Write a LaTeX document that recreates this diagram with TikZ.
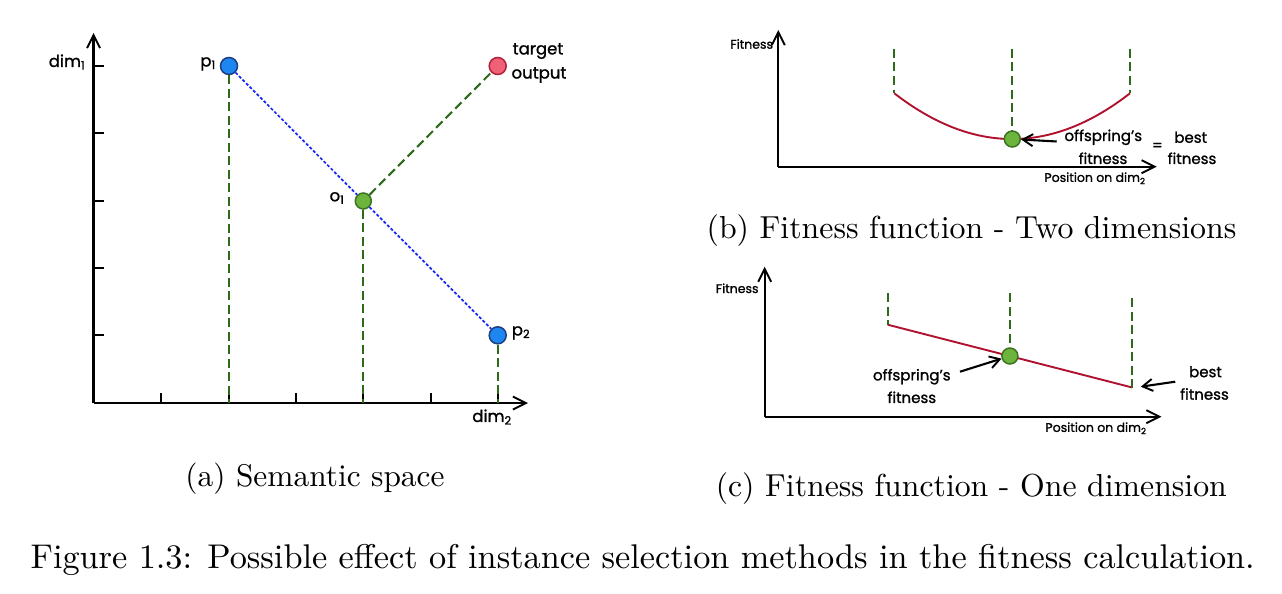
\documentclass[tikz,border=0pt]{standalone}
\usepackage{fontspec}
\newfontfamily\geo[FakeBold=1.2]{Poppins}
\usetikzlibrary{arrows.meta}
\definecolor{dgreen}{HTML}{2F6A1A}
\definecolor{dotblue}{HTML}{1428F5}
\definecolor{bluefill}{HTML}{1E86F0}
\definecolor{blueedge}{HTML}{1F3F7F}
\definecolor{greenfill}{HTML}{6CB43C}
\definecolor{greenedge}{HTML}{3C7324}
\definecolor{redfill}{HTML}{EF6177}
\definecolor{rededge}{HTML}{B3223C}
\definecolor{curvered}{HTML}{B0122E}
\begin{document}
\begin{tikzpicture}[x=1pt,y=-1pt,
  axisline/.style={line width=2.2pt,-{Straight Barb[length=13pt,width=13pt,line width=1.9pt]}},
  tickline/.style={line width=1.9pt},
  gdash/.style={dgreen,line width=2.1pt,dash pattern=on 9pt off 4.5pt},
  bdot/.style={dotblue,line width=1.7pt,dash pattern=on 3pt off 2pt},
  redline/.style={curvered,line width=1.9pt},
  annarrow/.style={line width=2.1pt,-{Straight Barb[length=10pt,width=12pt,line width=1.9pt]}},
  ptblue/.style={circle,minimum size=17pt,inner sep=0pt,line width=1.5pt,draw=blueedge,fill=bluefill},
  ptgreen/.style={circle,minimum size=16pt,inner sep=0pt,line width=1.5pt,draw=greenedge,fill=greenfill},
  ptred/.style={circle,minimum size=17pt,inner sep=0pt,line width=1.5pt,draw=rededge,fill=redfill},
  lblA/.style={font=\geo\fontsize{16.5}{18}\selectfont,inner sep=0pt},
  lblAx/.style={font=\geo\fontsize{12.5}{14}\selectfont,inner sep=0pt},
  lblAnn/.style={font=\geo\fontsize{15}{17}\selectfont,inner sep=0pt},
  capt/.style={inner sep=0pt}
]
\useasboundingbox[fill=white] (0,0) rectangle (1282,594);

% ---------------- panel (a) ----------------
\coordinate (aO) at (93.5,403);
\coordinate (aY) at (93.5,33);
\coordinate (aX) at (528,403);
\draw[axisline] (aO) -- (aY);
\draw[axisline] (aO) -- (aX);
\foreach \xx in {161.2,229,296.3,363.3,430.7,497.7}
  \draw[tickline] (\xx,403) -- (\xx,393);
\foreach \yy in {66,133.3,201,268.3,335.3}
  \draw[tickline] (93.5,\yy) -- (104,\yy);
\coordinate (f1) at (229,403);
\coordinate (f2) at (363.3,403);
\coordinate (f3) at (497.7,403);
\node[ptblue] (p1) at (229,66) {};
\node[ptgreen] (o1) at (363.3,201) {};
\node[ptblue] (p2) at (497.7,335.3) {};
\node[ptred] (tg) at (497.7,66) {};
\draw[gdash] (p1) -- (f1);
\draw[gdash] (o1) -- (f2);
\draw[gdash] (p2) -- (f3);
\draw[gdash] (o1) -- (tg);
\draw[bdot] (p1) -- (o1);
\draw[bdot] (o1) -- (p2);
\node[lblA] (ldim1) at (67,62) {dim\textsubscript{1}};
\node[lblA] (lp1) at (208,64) {p\textsubscript{1}};
\node[lblA] (lo1) at (337,198) {o\textsubscript{1}};
\node[lblA] (lp2) at (521,333) {p\textsubscript{2}};
\node[lblA] (ldim2) at (492,417) {dim\textsubscript{2}};
\node[lblA] (ltarget) at (538,51) {target};
\node[lblA] (loutput) at (539,75) {output};

% ---------------- panel (b) ----------------
\coordinate (bO) at (778.3,166.7);
\coordinate (bY) at (778.3,30);
\coordinate (bX) at (1156.7,166.7);
\draw[axisline] (bO) -- (bY);
\draw[axisline] (bO) -- (bX);
\node[lblAx] (bfit) at (751.7,44) {Fitness};
\node[lblAx] (bpos) at (1095,178.3) {Position on dim\textsubscript{2}};
\coordinate (bl) at (894.3,93.3);
\coordinate (br) at (1130,93.3);
\coordinate (blt) at (894.3,49);
\coordinate (bmt) at (1012.3,49);
\coordinate (brt) at (1130,49);
\draw[redline] (bl) .. controls (973,154.3) and (1051.6,154.3) .. (br);
\node[ptgreen] (bo) at (1012.3,139) {};
\draw[gdash] (blt) -- (bl);
\draw[gdash] (brt) -- (br);
\draw[gdash] (bmt) -- (bo);
\coordinate (bat) at (1056.7,141.5);
\draw[annarrow] (bat) -- (bo);
\node[lblAnn] (boff) at (1103.3,137.3) {offspring’s};
\node[lblAnn] (bfit1) at (1103,158.3) {fitness};
\node[lblAnn] (beq) at (1157.3,146.7) {=};
\node[lblAnn] (bbest) at (1190.7,137.3) {best};
\node[lblAnn] (bfit2) at (1192,158.3) {fitness};

% ---------------- panel (c) ----------------
\coordinate (cO) at (764.7,416.7);
\coordinate (cY) at (764.7,266.7);
\coordinate (cX) at (1161.4,416.7);
\draw[axisline] (cO) -- (cY);
\draw[axisline] (cO) -- (cX);
\node[lblAx] (cfit) at (737.2,288.3) {Fitness};
\node[lblAx] (cpos) at (1096,428.3) {Position on dim\textsubscript{2}};
\coordinate (cl) at (887.7,324.7);
\coordinate (cr) at (1132.2,387.5);
\coordinate (clt) at (887.7,293.3);
\coordinate (cmt) at (1009.9,293.3);
\coordinate (crt) at (1132.2,298.3);
\draw[redline] (cl) -- (cr);
\node[ptgreen] (co) at (1009.9,356) {};
\draw[gdash] (clt) -- (cl);
\draw[gdash] (crt) -- (cr);
\draw[gdash] (cmt) -- (co);
\coordinate (cat) at (960,371.7);
\draw[annarrow] (cat) -- (co);
\coordinate (cbt) at (1175.2,381.7);
\coordinate (cbh) at (1140.8,386.7);
\draw[annarrow] (cbt) -- (cbh);
\node[lblAnn] (coff) at (911.8,376.7) {offspring’s};
\node[lblAnn] (cfit1) at (911.8,397.3) {fitness};
\node[lblAnn] (cbest) at (1205.5,371.7) {best};
\node[lblAnn] (cfit2) at (1204.5,394) {fitness};

% ---------------- captions ----------------
\node[capt] (capa) at (315,479) {\resizebox{259pt}{!}{(a) Semantic space}};
\node[capt] (capb) at (971.5,231) {\resizebox{529.6pt}{!}{(b) Fitness function - Two dimensions}};
\node[capt] (capc) at (971.3,489) {\resizebox{511pt}{!}{(c) Fitness function - One dimension}};
\node[capt] (capm) at (642.7,560) {\resizebox{1224pt}{!}{Figure 1.3: Possible effect of instance selection methods in the fitness calculation.}};
\end{tikzpicture}
\end{document}
